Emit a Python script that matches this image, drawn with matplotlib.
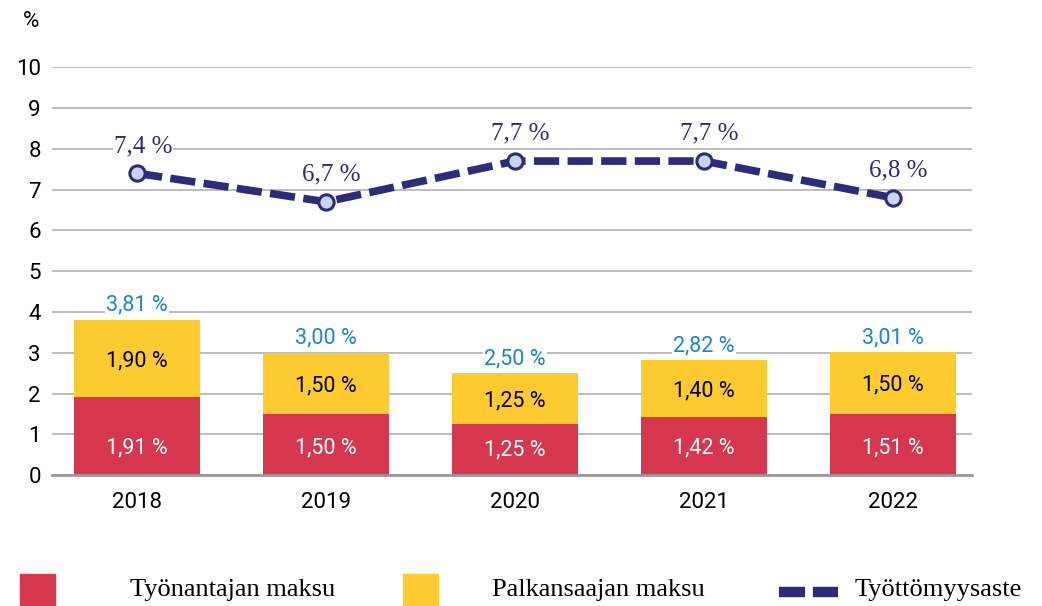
import matplotlib.pyplot as plt
from matplotlib.patches import Rectangle
from matplotlib.lines import Line2D
import numpy as np

# --- data ---
years = ["2018", "2019", "2020", "2021", "2022"]
employer = [1.91, 1.50, 1.25, 1.42, 1.51]
employee = [1.90, 1.50, 1.25, 1.40, 1.50]
totals = [3.81, 3.00, 2.50, 2.82, 3.01]
unemployment = [7.4, 6.7, 7.7, 7.7, 6.8]

RED = "#d6374f"
YELLOW = "#fdca30"
NAVY = "#2e2a7c"
MARKER_FILL = "#c8d5ea"
BLUE_TXT = "#1a85c9"

def fi(v, d):
    return f"{v:.{d}f}".replace(".", ",") + " %"

fig = plt.figure(figsize=(10.42, 6.06), dpi=100)
ax = fig.add_axes([0.05, 0.216, 0.883, 0.673])

x = np.arange(len(years))
w = 0.67
ax.bar(x, employer, w, color=RED, zorder=2)
ax.bar(x, employee, w, bottom=employer, color=YELLOW, zorder=2)

for i in range(len(years)):
    # red labels sit at a common height near the bar foot
    ax.text(x[i], min(employer[i] / 2, 0.66), fi(employer[i], 2), ha="center", va="center",
            color="white", fontsize=15.5, family="Roboto", zorder=3)
    ax.text(x[i], employer[i] + employee[i] / 2 - 0.06, fi(employee[i], 2), ha="center", va="center",
            color="black", fontsize=15.5, family="Roboto", zorder=3)
    ax.text(x[i], totals[i] + 0.1, fi(totals[i], 2), ha="center", va="bottom",
            color=BLUE_TXT, fontsize=15.5, family="Roboto", zorder=3,
            bbox=dict(facecolor="white", edgecolor="none", pad=1.0))

ax.plot(x, unemployment, color=NAVY, lw=5.5, dashes=(3.3, 1.1), marker="o", ms=11,
        mfc=MARKER_FILL, mec=NAVY, mew=2.2, zorder=4)
for i in range(len(years)):
    ax.text(x[i] + 0.03, unemployment[i] + 0.4, fi(unemployment[i], 1), ha="center", va="bottom",
            color=NAVY, fontsize=18, family="Liberation Serif", zorder=3,
            bbox=dict(facecolor="white", edgecolor="none", pad=0.5))

ax.set_xlim(-0.45, 4.42)
ax.set_ylim(0, 10)
ax.set_yticks(range(0, 11))
ax.set_xticks(x)
ax.set_xticklabels(years)
ax.grid(axis="y", color="#b0b0b0", lw=1.2, zorder=0)
ax.set_axisbelow(True)
for s in ["top", "right", "left"]:
    ax.spines[s].set_visible(False)
ax.spines["bottom"].set_color("#999999")
ax.spines["bottom"].set_linewidth(2)
ax.tick_params(axis="y", length=0, labelsize=16, pad=8)
ax.tick_params(axis="x", length=0, labelsize=16, pad=12)
for lab in ax.get_xticklabels() + ax.get_yticklabels():
    lab.set_family("Roboto")

fig.text(0.022, 0.955, "%", fontsize=16, family="Roboto")

# --- legend, drawn by hand along the bottom edge ---
W, H = 1042.0, 606.0
leg_font = dict(fontsize=19, family="Liberation Serif", va="center", ha="left")
fig.add_artist(Rectangle((20 / W, 1 - 605 / H), 35 / W, 31 / H, color=RED, transform=fig.transFigure))
fig.text(130 / W, 1 - 590 / H, "Työnantajan maksu", **leg_font)
fig.add_artist(Rectangle((403 / W, 1 - 605 / H), 35 / W, 31 / H, color=YELLOW, transform=fig.transFigure))
fig.text(492 / W, 1 - 590 / H, "Palkansaajan maksu", **leg_font)
fig.add_artist(Line2D([779 / W, 838 / W], [1 - 592 / H, 1 - 592 / H], color=NAVY, lw=7.5,
                      dashes=(2.5, 0.75), solid_capstyle="butt", dash_capstyle="butt",
                      transform=fig.transFigure))
fig.text(855 / W, 1 - 590 / H, "Työttömyysaste", **leg_font)

fig.savefig("out.png", dpi=100)
